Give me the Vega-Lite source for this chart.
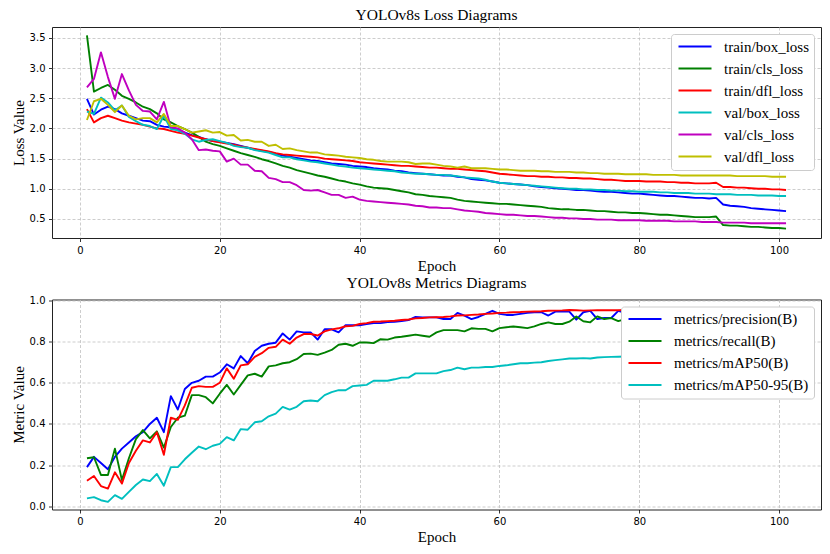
{
  "$schema": "https://vega.github.io/schema/vega-lite/v6.json",
  "background": "white",
  "padding": {"left": 10, "top": 7, "right": 5, "bottom": 5},
  "bounds": "flush",
  "spacing": 61.5,
  "config": {
    "font": "Liberation Serif",
    "view": {"stroke": "#222222", "strokeWidth": 1},
    "axis": {
      "domain": false,
      "labelFont": "DejaVu Sans", "labelFontSize": 10, "labelColor": "#000000", "labelPadding": 3.5, "labelFlush": false,
      "tickSize": 3.5, "tickColor": "#000000", "tickWidth": 0.8,
      "grid": true, "gridColor": "#c0c0c0", "gridDash": [3, 2], "gridWidth": 0.8,
      "titleFont": "Liberation Serif", "titleFontSize": 15, "titleFontWeight": "normal", "titleColor": "#000000", "titlePadding": 3
    },
    "title": {"font": "Liberation Serif", "fontSize": 15.5, "fontWeight": "normal", "color": "#000000", "offset": 4, "anchor": "middle"},
    "legend": {
      "orient": "top-right", "offset": 7, "title": null,
      "symbolType": "M-1,0H5.6", "symbolSize": 100, "symbolStrokeWidth": 2,
      "labelFont": "Liberation Serif", "labelFontSize": 15, "labelColor": "#000000", "labelOffset": 33, "labelLimit": 300,
      "rowPadding": 6, "padding": 5,
      "strokeColor": "#cccccc", "fillColor": "#ffffff", "cornerRadius": 3
    }
  },
  "resolve": {"scale": {"color": "independent"}, "legend": {"color": "independent"}},
  "datasets": {
    "loss": [
      {"epoch":1,"train/box_loss":2.49,"train/cls_loss":3.54,"train/dfl_loss":2.32,"val/box_loss":2.28,"val/cls_loss":2.68,"val/dfl_loss":2.14},
      {"epoch":2,"train/box_loss":2.23,"train/cls_loss":2.61,"train/dfl_loss":2.10,"val/box_loss":2.24,"val/cls_loss":2.82,"val/dfl_loss":2.45},
      {"epoch":3,"train/box_loss":2.31,"train/cls_loss":2.67,"train/dfl_loss":2.17,"val/box_loss":2.51,"val/cls_loss":3.26,"val/dfl_loss":2.49},
      {"epoch":4,"train/box_loss":2.36,"train/cls_loss":2.72,"train/dfl_loss":2.21,"val/box_loss":2.43,"val/cls_loss":2.85,"val/dfl_loss":2.39},
      {"epoch":5,"train/box_loss":2.32,"train/cls_loss":2.64,"train/dfl_loss":2.17,"val/box_loss":2.30,"val/cls_loss":2.49,"val/dfl_loss":2.27},
      {"epoch":6,"train/box_loss":2.25,"train/cls_loss":2.54,"train/dfl_loss":2.13,"val/box_loss":2.38,"val/cls_loss":2.90,"val/dfl_loss":2.38},
      {"epoch":7,"train/box_loss":2.21,"train/cls_loss":2.49,"train/dfl_loss":2.10,"val/box_loss":2.19,"val/cls_loss":2.63,"val/dfl_loss":2.21},
      {"epoch":8,"train/box_loss":2.17,"train/cls_loss":2.43,"train/dfl_loss":2.08,"val/box_loss":2.12,"val/cls_loss":2.39,"val/dfl_loss":2.15},
      {"epoch":9,"train/box_loss":2.13,"train/cls_loss":2.36,"train/dfl_loss":2.06,"val/box_loss":2.06,"val/cls_loss":2.29,"val/dfl_loss":2.17},
      {"epoch":10,"train/box_loss":2.12,"train/cls_loss":2.32,"train/dfl_loss":2.03,"val/box_loss":2.04,"val/cls_loss":2.28,"val/dfl_loss":2.17},
      {"epoch":11,"train/box_loss":2.06,"train/cls_loss":2.25,"train/dfl_loss":2.00,"val/box_loss":1.99,"val/cls_loss":2.15,"val/dfl_loss":2.10},
      {"epoch":12,"train/box_loss":2.03,"train/cls_loss":2.15,"train/dfl_loss":1.99,"val/box_loss":2.21,"val/cls_loss":2.44,"val/dfl_loss":2.24},
      {"epoch":13,"train/box_loss":2.02,"train/cls_loss":2.10,"train/dfl_loss":1.96,"val/box_loss":1.99,"val/cls_loss":2.02,"val/dfl_loss":2.04},
      {"epoch":14,"train/box_loss":1.97,"train/cls_loss":2.04,"train/dfl_loss":1.93,"val/box_loss":1.97,"val/cls_loss":2.00,"val/dfl_loss":2.04},
      {"epoch":15,"train/box_loss":1.93,"train/cls_loss":1.99,"train/dfl_loss":1.91,"val/box_loss":1.91,"val/cls_loss":1.93,"val/dfl_loss":1.99},
      {"epoch":16,"train/box_loss":1.89,"train/cls_loss":1.93,"train/dfl_loss":1.88,"val/box_loss":1.82,"val/cls_loss":1.82,"val/dfl_loss":1.93},
      {"epoch":17,"train/box_loss":1.86,"train/cls_loss":1.86,"train/dfl_loss":1.85,"val/box_loss":1.78,"val/cls_loss":1.64,"val/dfl_loss":1.95},
      {"epoch":18,"train/box_loss":1.82,"train/cls_loss":1.78,"train/dfl_loss":1.82,"val/box_loss":1.81,"val/cls_loss":1.65,"val/dfl_loss":1.97},
      {"epoch":19,"train/box_loss":1.79,"train/cls_loss":1.74,"train/dfl_loss":1.79,"val/box_loss":1.82,"val/cls_loss":1.63,"val/dfl_loss":1.93},
      {"epoch":20,"train/box_loss":1.78,"train/cls_loss":1.71,"train/dfl_loss":1.77,"val/box_loss":1.79,"val/cls_loss":1.62,"val/dfl_loss":1.94},
      {"epoch":21,"train/box_loss":1.76,"train/cls_loss":1.67,"train/dfl_loss":1.75,"val/box_loss":1.76,"val/cls_loss":1.45,"val/dfl_loss":1.88},
      {"epoch":22,"train/box_loss":1.74,"train/cls_loss":1.63,"train/dfl_loss":1.73,"val/box_loss":1.71,"val/cls_loss":1.50,"val/dfl_loss":1.89},
      {"epoch":23,"train/box_loss":1.71,"train/cls_loss":1.59,"train/dfl_loss":1.70,"val/box_loss":1.69,"val/cls_loss":1.40,"val/dfl_loss":1.80},
      {"epoch":24,"train/box_loss":1.68,"train/cls_loss":1.56,"train/dfl_loss":1.68,"val/box_loss":1.68,"val/cls_loss":1.40,"val/dfl_loss":1.81},
      {"epoch":25,"train/box_loss":1.65,"train/cls_loss":1.53,"train/dfl_loss":1.66,"val/box_loss":1.64,"val/cls_loss":1.30,"val/dfl_loss":1.78},
      {"epoch":26,"train/box_loss":1.63,"train/cls_loss":1.49,"train/dfl_loss":1.64,"val/box_loss":1.62,"val/cls_loss":1.29,"val/dfl_loss":1.78},
      {"epoch":27,"train/box_loss":1.61,"train/cls_loss":1.46,"train/dfl_loss":1.62,"val/box_loss":1.60,"val/cls_loss":1.18,"val/dfl_loss":1.71},
      {"epoch":28,"train/box_loss":1.58,"train/cls_loss":1.42,"train/dfl_loss":1.59,"val/box_loss":1.56,"val/cls_loss":1.16,"val/dfl_loss":1.73},
      {"epoch":29,"train/box_loss":1.55,"train/cls_loss":1.38,"train/dfl_loss":1.57,"val/box_loss":1.52,"val/cls_loss":1.11,"val/dfl_loss":1.66},
      {"epoch":30,"train/box_loss":1.53,"train/cls_loss":1.35,"train/dfl_loss":1.56,"val/box_loss":1.52,"val/cls_loss":1.11,"val/dfl_loss":1.67},
      {"epoch":31,"train/box_loss":1.51,"train/cls_loss":1.31,"train/dfl_loss":1.55,"val/box_loss":1.49,"val/cls_loss":1.06,"val/dfl_loss":1.64},
      {"epoch":32,"train/box_loss":1.49,"train/cls_loss":1.28,"train/dfl_loss":1.54,"val/box_loss":1.47,"val/cls_loss":0.98,"val/dfl_loss":1.62},
      {"epoch":33,"train/box_loss":1.47,"train/cls_loss":1.25,"train/dfl_loss":1.53,"val/box_loss":1.45,"val/cls_loss":0.97,"val/dfl_loss":1.60},
      {"epoch":34,"train/box_loss":1.46,"train/cls_loss":1.22,"train/dfl_loss":1.52,"val/box_loss":1.44,"val/cls_loss":0.98,"val/dfl_loss":1.60},
      {"epoch":35,"train/box_loss":1.44,"train/cls_loss":1.20,"train/dfl_loss":1.50,"val/box_loss":1.42,"val/cls_loss":0.94,"val/dfl_loss":1.57},
      {"epoch":36,"train/box_loss":1.42,"train/cls_loss":1.17,"train/dfl_loss":1.49,"val/box_loss":1.40,"val/cls_loss":0.90,"val/dfl_loss":1.56},
      {"epoch":37,"train/box_loss":1.41,"train/cls_loss":1.14,"train/dfl_loss":1.48,"val/box_loss":1.38,"val/cls_loss":0.90,"val/dfl_loss":1.55},
      {"epoch":38,"train/box_loss":1.40,"train/cls_loss":1.12,"train/dfl_loss":1.47,"val/box_loss":1.37,"val/cls_loss":0.85,"val/dfl_loss":1.53},
      {"epoch":39,"train/box_loss":1.38,"train/cls_loss":1.09,"train/dfl_loss":1.46,"val/box_loss":1.35,"val/cls_loss":0.87,"val/dfl_loss":1.52},
      {"epoch":40,"train/box_loss":1.37,"train/cls_loss":1.07,"train/dfl_loss":1.44,"val/box_loss":1.34,"val/cls_loss":0.82,"val/dfl_loss":1.51},
      {"epoch":41,"train/box_loss":1.36,"train/cls_loss":1.04,"train/dfl_loss":1.43,"val/box_loss":1.33,"val/cls_loss":0.80,"val/dfl_loss":1.49},
      {"epoch":42,"train/box_loss":1.34,"train/cls_loss":1.02,"train/dfl_loss":1.42,"val/box_loss":1.32,"val/cls_loss":0.79,"val/dfl_loss":1.48},
      {"epoch":43,"train/box_loss":1.33,"train/cls_loss":1.01,"train/dfl_loss":1.41,"val/box_loss":1.31,"val/cls_loss":0.78,"val/dfl_loss":1.46},
      {"epoch":44,"train/box_loss":1.32,"train/cls_loss":1.00,"train/dfl_loss":1.40,"val/box_loss":1.30,"val/cls_loss":0.77,"val/dfl_loss":1.45},
      {"epoch":45,"train/box_loss":1.30,"train/cls_loss":0.98,"train/dfl_loss":1.39,"val/box_loss":1.29,"val/cls_loss":0.76,"val/dfl_loss":1.45},
      {"epoch":46,"train/box_loss":1.29,"train/cls_loss":0.96,"train/dfl_loss":1.38,"val/box_loss":1.27,"val/cls_loss":0.75,"val/dfl_loss":1.45},
      {"epoch":47,"train/box_loss":1.27,"train/cls_loss":0.94,"train/dfl_loss":1.38,"val/box_loss":1.26,"val/cls_loss":0.74,"val/dfl_loss":1.44},
      {"epoch":48,"train/box_loss":1.26,"train/cls_loss":0.91,"train/dfl_loss":1.37,"val/box_loss":1.25,"val/cls_loss":0.72,"val/dfl_loss":1.41},
      {"epoch":49,"train/box_loss":1.25,"train/cls_loss":0.90,"train/dfl_loss":1.36,"val/box_loss":1.25,"val/cls_loss":0.71,"val/dfl_loss":1.42},
      {"epoch":50,"train/box_loss":1.24,"train/cls_loss":0.88,"train/dfl_loss":1.35,"val/box_loss":1.24,"val/cls_loss":0.69,"val/dfl_loss":1.42},
      {"epoch":51,"train/box_loss":1.23,"train/cls_loss":0.87,"train/dfl_loss":1.35,"val/box_loss":1.23,"val/cls_loss":0.69,"val/dfl_loss":1.40},
      {"epoch":52,"train/box_loss":1.22,"train/cls_loss":0.86,"train/dfl_loss":1.34,"val/box_loss":1.23,"val/cls_loss":0.68,"val/dfl_loss":1.38},
      {"epoch":53,"train/box_loss":1.22,"train/cls_loss":0.85,"train/dfl_loss":1.33,"val/box_loss":1.22,"val/cls_loss":0.68,"val/dfl_loss":1.37},
      {"epoch":54,"train/box_loss":1.20,"train/cls_loss":0.82,"train/dfl_loss":1.33,"val/box_loss":1.21,"val/cls_loss":0.66,"val/dfl_loss":1.35},
      {"epoch":55,"train/box_loss":1.19,"train/cls_loss":0.80,"train/dfl_loss":1.32,"val/box_loss":1.19,"val/cls_loss":0.64,"val/dfl_loss":1.37},
      {"epoch":56,"train/box_loss":1.16,"train/cls_loss":0.79,"train/dfl_loss":1.31,"val/box_loss":1.18,"val/cls_loss":0.63,"val/dfl_loss":1.34},
      {"epoch":57,"train/box_loss":1.15,"train/cls_loss":0.78,"train/dfl_loss":1.30,"val/box_loss":1.17,"val/cls_loss":0.62,"val/dfl_loss":1.34},
      {"epoch":58,"train/box_loss":1.14,"train/cls_loss":0.77,"train/dfl_loss":1.29,"val/box_loss":1.15,"val/cls_loss":0.60,"val/dfl_loss":1.34},
      {"epoch":59,"train/box_loss":1.12,"train/cls_loss":0.76,"train/dfl_loss":1.27,"val/box_loss":1.12,"val/cls_loss":0.59,"val/dfl_loss":1.33},
      {"epoch":60,"train/box_loss":1.10,"train/cls_loss":0.75,"train/dfl_loss":1.25,"val/box_loss":1.10,"val/cls_loss":0.58,"val/dfl_loss":1.32},
      {"epoch":61,"train/box_loss":1.09,"train/cls_loss":0.75,"train/dfl_loss":1.24,"val/box_loss":1.09,"val/cls_loss":0.57,"val/dfl_loss":1.32},
      {"epoch":62,"train/box_loss":1.08,"train/cls_loss":0.74,"train/dfl_loss":1.23,"val/box_loss":1.08,"val/cls_loss":0.57,"val/dfl_loss":1.31},
      {"epoch":63,"train/box_loss":1.07,"train/cls_loss":0.73,"train/dfl_loss":1.22,"val/box_loss":1.07,"val/cls_loss":0.56,"val/dfl_loss":1.30},
      {"epoch":64,"train/box_loss":1.06,"train/cls_loss":0.72,"train/dfl_loss":1.21,"val/box_loss":1.06,"val/cls_loss":0.55,"val/dfl_loss":1.30},
      {"epoch":65,"train/box_loss":1.04,"train/cls_loss":0.71,"train/dfl_loss":1.21,"val/box_loss":1.05,"val/cls_loss":0.55,"val/dfl_loss":1.30},
      {"epoch":66,"train/box_loss":1.03,"train/cls_loss":0.70,"train/dfl_loss":1.20,"val/box_loss":1.04,"val/cls_loss":0.54,"val/dfl_loss":1.29},
      {"epoch":67,"train/box_loss":1.02,"train/cls_loss":0.68,"train/dfl_loss":1.20,"val/box_loss":1.03,"val/cls_loss":0.53,"val/dfl_loss":1.29},
      {"epoch":68,"train/box_loss":1.01,"train/cls_loss":0.67,"train/dfl_loss":1.19,"val/box_loss":1.02,"val/cls_loss":0.52,"val/dfl_loss":1.28},
      {"epoch":69,"train/box_loss":1.00,"train/cls_loss":0.66,"train/dfl_loss":1.19,"val/box_loss":1.01,"val/cls_loss":0.52,"val/dfl_loss":1.28},
      {"epoch":70,"train/box_loss":0.99,"train/cls_loss":0.66,"train/dfl_loss":1.18,"val/box_loss":1.00,"val/cls_loss":0.51,"val/dfl_loss":1.28},
      {"epoch":71,"train/box_loss":0.98,"train/cls_loss":0.65,"train/dfl_loss":1.18,"val/box_loss":1.00,"val/cls_loss":0.51,"val/dfl_loss":1.27},
      {"epoch":72,"train/box_loss":0.98,"train/cls_loss":0.65,"train/dfl_loss":1.17,"val/box_loss":0.99,"val/cls_loss":0.50,"val/dfl_loss":1.27},
      {"epoch":73,"train/box_loss":0.97,"train/cls_loss":0.64,"train/dfl_loss":1.17,"val/box_loss":0.99,"val/cls_loss":0.50,"val/dfl_loss":1.26},
      {"epoch":74,"train/box_loss":0.96,"train/cls_loss":0.63,"train/dfl_loss":1.16,"val/box_loss":0.98,"val/cls_loss":0.49,"val/dfl_loss":1.26},
      {"epoch":75,"train/box_loss":0.95,"train/cls_loss":0.63,"train/dfl_loss":1.15,"val/box_loss":0.98,"val/cls_loss":0.49,"val/dfl_loss":1.25},
      {"epoch":76,"train/box_loss":0.95,"train/cls_loss":0.62,"train/dfl_loss":1.15,"val/box_loss":0.97,"val/cls_loss":0.49,"val/dfl_loss":1.25},
      {"epoch":77,"train/box_loss":0.94,"train/cls_loss":0.61,"train/dfl_loss":1.14,"val/box_loss":0.97,"val/cls_loss":0.48,"val/dfl_loss":1.25},
      {"epoch":78,"train/box_loss":0.93,"train/cls_loss":0.61,"train/dfl_loss":1.13,"val/box_loss":0.96,"val/cls_loss":0.48,"val/dfl_loss":1.24},
      {"epoch":79,"train/box_loss":0.92,"train/cls_loss":0.60,"train/dfl_loss":1.13,"val/box_loss":0.96,"val/cls_loss":0.48,"val/dfl_loss":1.24},
      {"epoch":80,"train/box_loss":0.92,"train/cls_loss":0.60,"train/dfl_loss":1.13,"val/box_loss":0.95,"val/cls_loss":0.48,"val/dfl_loss":1.24},
      {"epoch":81,"train/box_loss":0.91,"train/cls_loss":0.59,"train/dfl_loss":1.12,"val/box_loss":0.95,"val/cls_loss":0.47,"val/dfl_loss":1.24},
      {"epoch":82,"train/box_loss":0.90,"train/cls_loss":0.58,"train/dfl_loss":1.12,"val/box_loss":0.95,"val/cls_loss":0.47,"val/dfl_loss":1.23},
      {"epoch":83,"train/box_loss":0.89,"train/cls_loss":0.57,"train/dfl_loss":1.12,"val/box_loss":0.94,"val/cls_loss":0.47,"val/dfl_loss":1.23},
      {"epoch":84,"train/box_loss":0.88,"train/cls_loss":0.57,"train/dfl_loss":1.11,"val/box_loss":0.94,"val/cls_loss":0.47,"val/dfl_loss":1.23},
      {"epoch":85,"train/box_loss":0.88,"train/cls_loss":0.56,"train/dfl_loss":1.11,"val/box_loss":0.93,"val/cls_loss":0.46,"val/dfl_loss":1.23},
      {"epoch":86,"train/box_loss":0.87,"train/cls_loss":0.55,"train/dfl_loss":1.10,"val/box_loss":0.93,"val/cls_loss":0.46,"val/dfl_loss":1.22},
      {"epoch":87,"train/box_loss":0.86,"train/cls_loss":0.54,"train/dfl_loss":1.10,"val/box_loss":0.93,"val/cls_loss":0.46,"val/dfl_loss":1.22},
      {"epoch":88,"train/box_loss":0.85,"train/cls_loss":0.53,"train/dfl_loss":1.09,"val/box_loss":0.92,"val/cls_loss":0.46,"val/dfl_loss":1.22},
      {"epoch":89,"train/box_loss":0.85,"train/cls_loss":0.53,"train/dfl_loss":1.09,"val/box_loss":0.92,"val/cls_loss":0.45,"val/dfl_loss":1.22},
      {"epoch":90,"train/box_loss":0.84,"train/cls_loss":0.53,"train/dfl_loss":1.09,"val/box_loss":0.92,"val/cls_loss":0.45,"val/dfl_loss":1.22},
      {"epoch":91,"train/box_loss":0.85,"train/cls_loss":0.54,"train/dfl_loss":1.10,"val/box_loss":0.91,"val/cls_loss":0.45,"val/dfl_loss":1.22},
      {"epoch":92,"train/box_loss":0.74,"train/cls_loss":0.40,"train/dfl_loss":1.03,"val/box_loss":0.91,"val/cls_loss":0.44,"val/dfl_loss":1.22},
      {"epoch":93,"train/box_loss":0.72,"train/cls_loss":0.39,"train/dfl_loss":1.03,"val/box_loss":0.91,"val/cls_loss":0.44,"val/dfl_loss":1.22},
      {"epoch":94,"train/box_loss":0.71,"train/cls_loss":0.39,"train/dfl_loss":1.02,"val/box_loss":0.90,"val/cls_loss":0.44,"val/dfl_loss":1.21},
      {"epoch":95,"train/box_loss":0.70,"train/cls_loss":0.38,"train/dfl_loss":1.02,"val/box_loss":0.90,"val/cls_loss":0.44,"val/dfl_loss":1.21},
      {"epoch":96,"train/box_loss":0.68,"train/cls_loss":0.37,"train/dfl_loss":1.01,"val/box_loss":0.90,"val/cls_loss":0.43,"val/dfl_loss":1.21},
      {"epoch":97,"train/box_loss":0.67,"train/cls_loss":0.37,"train/dfl_loss":1.00,"val/box_loss":0.89,"val/cls_loss":0.43,"val/dfl_loss":1.21},
      {"epoch":98,"train/box_loss":0.66,"train/cls_loss":0.36,"train/dfl_loss":1.00,"val/box_loss":0.89,"val/cls_loss":0.43,"val/dfl_loss":1.21},
      {"epoch":99,"train/box_loss":0.65,"train/cls_loss":0.35,"train/dfl_loss":0.99,"val/box_loss":0.89,"val/cls_loss":0.43,"val/dfl_loss":1.20},
      {"epoch":100,"train/box_loss":0.64,"train/cls_loss":0.35,"train/dfl_loss":0.99,"val/box_loss":0.88,"val/cls_loss":0.43,"val/dfl_loss":1.20},
      {"epoch":101,"train/box_loss":0.63,"train/cls_loss":0.34,"train/dfl_loss":0.98,"val/box_loss":0.88,"val/cls_loss":0.43,"val/dfl_loss":1.20}
    ],
    "metrics": [
      {"epoch":1,"metrics/precision(B)":0.19,"metrics/recall(B)":0.233,"metrics/mAP50(B)":0.124,"metrics/mAP50-95(B)":0.038},
      {"epoch":2,"metrics/precision(B)":0.24,"metrics/recall(B)":0.238,"metrics/mAP50(B)":0.147,"metrics/mAP50-95(B)":0.044},
      {"epoch":3,"metrics/precision(B)":0.21,"metrics/recall(B)":0.152,"metrics/mAP50(B)":0.098,"metrics/mAP50-95(B)":0.029},
      {"epoch":4,"metrics/precision(B)":0.18,"metrics/recall(B)":0.152,"metrics/mAP50(B)":0.086,"metrics/mAP50-95(B)":0.021},
      {"epoch":5,"metrics/precision(B)":0.24,"metrics/recall(B)":0.28,"metrics/mAP50(B)":0.165,"metrics/mAP50-95(B)":0.054},
      {"epoch":6,"metrics/precision(B)":0.28,"metrics/recall(B)":0.127,"metrics/mAP50(B)":0.11,"metrics/mAP50-95(B)":0.036},
      {"epoch":7,"metrics/precision(B)":0.31,"metrics/recall(B)":0.233,"metrics/mAP50(B)":0.21,"metrics/mAP50-95(B)":0.07},
      {"epoch":8,"metrics/precision(B)":0.34,"metrics/recall(B)":0.326,"metrics/mAP50(B)":0.27,"metrics/mAP50-95(B)":0.103},
      {"epoch":9,"metrics/precision(B)":0.36,"metrics/recall(B)":0.37,"metrics/mAP50(B)":0.32,"metrics/mAP50-95(B)":0.13},
      {"epoch":10,"metrics/precision(B)":0.40,"metrics/recall(B)":0.33,"metrics/mAP50(B)":0.31,"metrics/mAP50-95(B)":0.122},
      {"epoch":11,"metrics/precision(B)":0.43,"metrics/recall(B)":0.364,"metrics/mAP50(B)":0.36,"metrics/mAP50-95(B)":0.157},
      {"epoch":12,"metrics/precision(B)":0.36,"metrics/recall(B)":0.285,"metrics/mAP50(B)":0.25,"metrics/mAP50-95(B)":0.10},
      {"epoch":13,"metrics/precision(B)":0.535,"metrics/recall(B)":0.385,"metrics/mAP50(B)":0.43,"metrics/mAP50-95(B)":0.19},
      {"epoch":14,"metrics/precision(B)":0.47,"metrics/recall(B)":0.43,"metrics/mAP50(B)":0.42,"metrics/mAP50-95(B)":0.19},
      {"epoch":15,"metrics/precision(B)":0.57,"metrics/recall(B)":0.44,"metrics/mAP50(B)":0.49,"metrics/mAP50-95(B)":0.228},
      {"epoch":16,"metrics/precision(B)":0.60,"metrics/recall(B)":0.54,"metrics/mAP50(B)":0.576,"metrics/mAP50-95(B)":0.26},
      {"epoch":17,"metrics/precision(B)":0.61,"metrics/recall(B)":0.54,"metrics/mAP50(B)":0.584,"metrics/mAP50-95(B)":0.29},
      {"epoch":18,"metrics/precision(B)":0.63,"metrics/recall(B)":0.53,"metrics/mAP50(B)":0.58,"metrics/mAP50-95(B)":0.277},
      {"epoch":19,"metrics/precision(B)":0.63,"metrics/recall(B)":0.50,"metrics/mAP50(B)":0.58,"metrics/mAP50-95(B)":0.294},
      {"epoch":20,"metrics/precision(B)":0.65,"metrics/recall(B)":0.547,"metrics/mAP50(B)":0.60,"metrics/mAP50-95(B)":0.303},
      {"epoch":21,"metrics/precision(B)":0.69,"metrics/recall(B)":0.59,"metrics/mAP50(B)":0.67,"metrics/mAP50-95(B)":0.336},
      {"epoch":22,"metrics/precision(B)":0.67,"metrics/recall(B)":0.543,"metrics/mAP50(B)":0.62,"metrics/mAP50-95(B)":0.32},
      {"epoch":23,"metrics/precision(B)":0.73,"metrics/recall(B)":0.59,"metrics/mAP50(B)":0.685,"metrics/mAP50-95(B)":0.375},
      {"epoch":24,"metrics/precision(B)":0.695,"metrics/recall(B)":0.636,"metrics/mAP50(B)":0.69,"metrics/mAP50-95(B)":0.372},
      {"epoch":25,"metrics/precision(B)":0.755,"metrics/recall(B)":0.644,"metrics/mAP50(B)":0.726,"metrics/mAP50-95(B)":0.408},
      {"epoch":26,"metrics/precision(B)":0.78,"metrics/recall(B)":0.63,"metrics/mAP50(B)":0.744,"metrics/mAP50-95(B)":0.413},
      {"epoch":27,"metrics/precision(B)":0.79,"metrics/recall(B)":0.68,"metrics/mAP50(B)":0.77,"metrics/mAP50-95(B)":0.437},
      {"epoch":28,"metrics/precision(B)":0.795,"metrics/recall(B)":0.685,"metrics/mAP50(B)":0.775,"metrics/mAP50-95(B)":0.45},
      {"epoch":29,"metrics/precision(B)":0.84,"metrics/recall(B)":0.695,"metrics/mAP50(B)":0.81,"metrics/mAP50-95(B)":0.483},
      {"epoch":30,"metrics/precision(B)":0.81,"metrics/recall(B)":0.70,"metrics/mAP50(B)":0.79,"metrics/mAP50-95(B)":0.47},
      {"epoch":31,"metrics/precision(B)":0.85,"metrics/recall(B)":0.715,"metrics/mAP50(B)":0.82,"metrics/mAP50-95(B)":0.483},
      {"epoch":32,"metrics/precision(B)":0.845,"metrics/recall(B)":0.74,"metrics/mAP50(B)":0.837,"metrics/mAP50-95(B)":0.51},
      {"epoch":33,"metrics/precision(B)":0.845,"metrics/recall(B)":0.742,"metrics/mAP50(B)":0.837,"metrics/mAP50-95(B)":0.514},
      {"epoch":34,"metrics/precision(B)":0.81,"metrics/recall(B)":0.736,"metrics/mAP50(B)":0.83,"metrics/mAP50-95(B)":0.51},
      {"epoch":35,"metrics/precision(B)":0.86,"metrics/recall(B)":0.747,"metrics/mAP50(B)":0.85,"metrics/mAP50-95(B)":0.54},
      {"epoch":36,"metrics/precision(B)":0.86,"metrics/recall(B)":0.76,"metrics/mAP50(B)":0.86,"metrics/mAP50-95(B)":0.555},
      {"epoch":37,"metrics/precision(B)":0.845,"metrics/recall(B)":0.785,"metrics/mAP50(B)":0.865,"metrics/mAP50-95(B)":0.564},
      {"epoch":38,"metrics/precision(B)":0.88,"metrics/recall(B)":0.79,"metrics/mAP50(B)":0.875,"metrics/mAP50-95(B)":0.564},
      {"epoch":39,"metrics/precision(B)":0.88,"metrics/recall(B)":0.78,"metrics/mAP50(B)":0.877,"metrics/mAP50-95(B)":0.584},
      {"epoch":40,"metrics/precision(B)":0.88,"metrics/recall(B)":0.796,"metrics/mAP50(B)":0.886,"metrics/mAP50-95(B)":0.587},
      {"epoch":41,"metrics/precision(B)":0.885,"metrics/recall(B)":0.796,"metrics/mAP50(B)":0.89,"metrics/mAP50-95(B)":0.59},
      {"epoch":42,"metrics/precision(B)":0.89,"metrics/recall(B)":0.793,"metrics/mAP50(B)":0.897,"metrics/mAP50-95(B)":0.61},
      {"epoch":43,"metrics/precision(B)":0.89,"metrics/recall(B)":0.812,"metrics/mAP50(B)":0.898,"metrics/mAP50-95(B)":0.61},
      {"epoch":44,"metrics/precision(B)":0.895,"metrics/recall(B)":0.81,"metrics/mAP50(B)":0.90,"metrics/mAP50-95(B)":0.61},
      {"epoch":45,"metrics/precision(B)":0.897,"metrics/recall(B)":0.82,"metrics/mAP50(B)":0.902,"metrics/mAP50-95(B)":0.617},
      {"epoch":46,"metrics/precision(B)":0.90,"metrics/recall(B)":0.824,"metrics/mAP50(B)":0.905,"metrics/mAP50-95(B)":0.625},
      {"epoch":47,"metrics/precision(B)":0.905,"metrics/recall(B)":0.829,"metrics/mAP50(B)":0.908,"metrics/mAP50-95(B)":0.625},
      {"epoch":48,"metrics/precision(B)":0.92,"metrics/recall(B)":0.834,"metrics/mAP50(B)":0.913,"metrics/mAP50-95(B)":0.646},
      {"epoch":49,"metrics/precision(B)":0.918,"metrics/recall(B)":0.829,"metrics/mAP50(B)":0.915,"metrics/mAP50-95(B)":0.646},
      {"epoch":50,"metrics/precision(B)":0.918,"metrics/recall(B)":0.824,"metrics/mAP50(B)":0.918,"metrics/mAP50-95(B)":0.646},
      {"epoch":51,"metrics/precision(B)":0.918,"metrics/recall(B)":0.845,"metrics/mAP50(B)":0.919,"metrics/mAP50-95(B)":0.646},
      {"epoch":52,"metrics/precision(B)":0.91,"metrics/recall(B)":0.856,"metrics/mAP50(B)":0.92,"metrics/mAP50-95(B)":0.657},
      {"epoch":53,"metrics/precision(B)":0.91,"metrics/recall(B)":0.856,"metrics/mAP50(B)":0.923,"metrics/mAP50-95(B)":0.662},
      {"epoch":54,"metrics/precision(B)":0.94,"metrics/recall(B)":0.856,"metrics/mAP50(B)":0.927,"metrics/mAP50-95(B)":0.674},
      {"epoch":55,"metrics/precision(B)":0.927,"metrics/recall(B)":0.85,"metrics/mAP50(B)":0.928,"metrics/mAP50-95(B)":0.666},
      {"epoch":56,"metrics/precision(B)":0.91,"metrics/recall(B)":0.865,"metrics/mAP50(B)":0.93,"metrics/mAP50-95(B)":0.674},
      {"epoch":57,"metrics/precision(B)":0.92,"metrics/recall(B)":0.862,"metrics/mAP50(B)":0.932,"metrics/mAP50-95(B)":0.674},
      {"epoch":58,"metrics/precision(B)":0.935,"metrics/recall(B)":0.862,"metrics/mAP50(B)":0.935,"metrics/mAP50-95(B)":0.677},
      {"epoch":59,"metrics/precision(B)":0.95,"metrics/recall(B)":0.85,"metrics/mAP50(B)":0.937,"metrics/mAP50-95(B)":0.677},
      {"epoch":60,"metrics/precision(B)":0.935,"metrics/recall(B)":0.866,"metrics/mAP50(B)":0.94,"metrics/mAP50-95(B)":0.682},
      {"epoch":61,"metrics/precision(B)":0.93,"metrics/recall(B)":0.87,"metrics/mAP50(B)":0.941,"metrics/mAP50-95(B)":0.685},
      {"epoch":62,"metrics/precision(B)":0.93,"metrics/recall(B)":0.874,"metrics/mAP50(B)":0.943,"metrics/mAP50-95(B)":0.69},
      {"epoch":63,"metrics/precision(B)":0.935,"metrics/recall(B)":0.87,"metrics/mAP50(B)":0.944,"metrics/mAP50-95(B)":0.695},
      {"epoch":64,"metrics/precision(B)":0.94,"metrics/recall(B)":0.866,"metrics/mAP50(B)":0.946,"metrics/mAP50-95(B)":0.695},
      {"epoch":65,"metrics/precision(B)":0.943,"metrics/recall(B)":0.874,"metrics/mAP50(B)":0.947,"metrics/mAP50-95(B)":0.698},
      {"epoch":66,"metrics/precision(B)":0.943,"metrics/recall(B)":0.886,"metrics/mAP50(B)":0.948,"metrics/mAP50-95(B)":0.70},
      {"epoch":67,"metrics/precision(B)":0.927,"metrics/recall(B)":0.894,"metrics/mAP50(B)":0.95,"metrics/mAP50-95(B)":0.706},
      {"epoch":68,"metrics/precision(B)":0.946,"metrics/recall(B)":0.886,"metrics/mAP50(B)":0.951,"metrics/mAP50-95(B)":0.71},
      {"epoch":69,"metrics/precision(B)":0.946,"metrics/recall(B)":0.886,"metrics/mAP50(B)":0.952,"metrics/mAP50-95(B)":0.714},
      {"epoch":70,"metrics/precision(B)":0.946,"metrics/recall(B)":0.897,"metrics/mAP50(B)":0.954,"metrics/mAP50-95(B)":0.718},
      {"epoch":71,"metrics/precision(B)":0.907,"metrics/recall(B)":0.922,"metrics/mAP50(B)":0.953,"metrics/mAP50-95(B)":0.718},
      {"epoch":72,"metrics/precision(B)":0.943,"metrics/recall(B)":0.899,"metrics/mAP50(B)":0.951,"metrics/mAP50-95(B)":0.72},
      {"epoch":73,"metrics/precision(B)":0.95,"metrics/recall(B)":0.894,"metrics/mAP50(B)":0.952,"metrics/mAP50-95(B)":0.718},
      {"epoch":74,"metrics/precision(B)":0.91,"metrics/recall(B)":0.923,"metrics/mAP50(B)":0.953,"metrics/mAP50-95(B)":0.723},
      {"epoch":75,"metrics/precision(B)":0.915,"metrics/recall(B)":0.91,"metrics/mAP50(B)":0.953,"metrics/mAP50-95(B)":0.725},
      {"epoch":76,"metrics/precision(B)":0.915,"metrics/recall(B)":0.915,"metrics/mAP50(B)":0.953,"metrics/mAP50-95(B)":0.726},
      {"epoch":77,"metrics/precision(B)":0.95,"metrics/recall(B)":0.90,"metrics/mAP50(B)":0.953,"metrics/mAP50-95(B)":0.727},
      {"epoch":78,"metrics/precision(B)":0.94,"metrics/recall(B)":0.91,"metrics/mAP50(B)":0.954,"metrics/mAP50-95(B)":0.728},
      {"epoch":79,"metrics/precision(B)":0.95,"metrics/recall(B)":0.91,"metrics/mAP50(B)":0.954,"metrics/mAP50-95(B)":0.729},
      {"epoch":80,"metrics/precision(B)":0.94,"metrics/recall(B)":0.90,"metrics/mAP50(B)":0.954,"metrics/mAP50-95(B)":0.73},
      {"epoch":81,"metrics/precision(B)":0.95,"metrics/recall(B)":0.91,"metrics/mAP50(B)":0.955,"metrics/mAP50-95(B)":0.731},
      {"epoch":82,"metrics/precision(B)":0.94,"metrics/recall(B)":0.91,"metrics/mAP50(B)":0.955,"metrics/mAP50-95(B)":0.732},
      {"epoch":83,"metrics/precision(B)":0.95,"metrics/recall(B)":0.92,"metrics/mAP50(B)":0.955,"metrics/mAP50-95(B)":0.733},
      {"epoch":84,"metrics/precision(B)":0.95,"metrics/recall(B)":0.91,"metrics/mAP50(B)":0.956,"metrics/mAP50-95(B)":0.734},
      {"epoch":85,"metrics/precision(B)":0.94,"metrics/recall(B)":0.92,"metrics/mAP50(B)":0.956,"metrics/mAP50-95(B)":0.735},
      {"epoch":86,"metrics/precision(B)":0.95,"metrics/recall(B)":0.92,"metrics/mAP50(B)":0.956,"metrics/mAP50-95(B)":0.736},
      {"epoch":87,"metrics/precision(B)":0.95,"metrics/recall(B)":0.91,"metrics/mAP50(B)":0.957,"metrics/mAP50-95(B)":0.737},
      {"epoch":88,"metrics/precision(B)":0.95,"metrics/recall(B)":0.92,"metrics/mAP50(B)":0.957,"metrics/mAP50-95(B)":0.738},
      {"epoch":89,"metrics/precision(B)":0.94,"metrics/recall(B)":0.92,"metrics/mAP50(B)":0.957,"metrics/mAP50-95(B)":0.739},
      {"epoch":90,"metrics/precision(B)":0.95,"metrics/recall(B)":0.92,"metrics/mAP50(B)":0.957,"metrics/mAP50-95(B)":0.74},
      {"epoch":91,"metrics/precision(B)":0.95,"metrics/recall(B)":0.92,"metrics/mAP50(B)":0.958,"metrics/mAP50-95(B)":0.741},
      {"epoch":92,"metrics/precision(B)":0.96,"metrics/recall(B)":0.93,"metrics/mAP50(B)":0.958,"metrics/mAP50-95(B)":0.742},
      {"epoch":93,"metrics/precision(B)":0.95,"metrics/recall(B)":0.92,"metrics/mAP50(B)":0.958,"metrics/mAP50-95(B)":0.743},
      {"epoch":94,"metrics/precision(B)":0.96,"metrics/recall(B)":0.93,"metrics/mAP50(B)":0.958,"metrics/mAP50-95(B)":0.744},
      {"epoch":95,"metrics/precision(B)":0.96,"metrics/recall(B)":0.93,"metrics/mAP50(B)":0.959,"metrics/mAP50-95(B)":0.744},
      {"epoch":96,"metrics/precision(B)":0.95,"metrics/recall(B)":0.93,"metrics/mAP50(B)":0.959,"metrics/mAP50-95(B)":0.745},
      {"epoch":97,"metrics/precision(B)":0.96,"metrics/recall(B)":0.93,"metrics/mAP50(B)":0.959,"metrics/mAP50-95(B)":0.745},
      {"epoch":98,"metrics/precision(B)":0.96,"metrics/recall(B)":0.93,"metrics/mAP50(B)":0.959,"metrics/mAP50-95(B)":0.746},
      {"epoch":99,"metrics/precision(B)":0.96,"metrics/recall(B)":0.93,"metrics/mAP50(B)":0.96,"metrics/mAP50-95(B)":0.746},
      {"epoch":100,"metrics/precision(B)":0.96,"metrics/recall(B)":0.93,"metrics/mAP50(B)":0.96,"metrics/mAP50-95(B)":0.747},
      {"epoch":101,"metrics/precision(B)":0.96,"metrics/recall(B)":0.93,"metrics/mAP50(B)":0.96,"metrics/mAP50-95(B)":0.747}
    ]
  },
  "vconcat": [
    {
      "title": "YOLOv8s Loss Diagrams",
      "width": 769,
      "height": 211,
      "data": {"name": "loss"},
      "transform": [
        {"fold": ["train/box_loss", "train/cls_loss", "train/dfl_loss", "val/box_loss", "val/cls_loss", "val/dfl_loss"], "as": ["series", "value"]}
      ],
      "mark": {"type": "line", "strokeWidth": 1.9, "strokeJoin": "round"},
      "encoding": {
        "x": {
          "field": "epoch", "type": "quantitative",
          "scale": {"domain": [-4, 106], "nice": false, "zero": false},
          "axis": {"values": [0, 20, 40, 60, 80, 100], "title": "Epoch"}
        },
        "y": {
          "field": "value", "type": "quantitative",
          "scale": {"domain": [0.185, 3.68], "nice": false, "zero": false},
          "axis": {"values": [0.5, 1.0, 1.5, 2.0, 2.5, 3.0, 3.5], "format": ".1f", "title": "Loss Value"}
        },
        "color": {
          "field": "series", "type": "nominal",
          "scale": {
            "domain": ["train/box_loss", "train/cls_loss", "train/dfl_loss", "val/box_loss", "val/cls_loss", "val/dfl_loss"],
            "range": ["#0000ff", "#008000", "#ff0000", "#00bfbf", "#bf00bf", "#bfbf00"]
          },
          "legend": {"orient": "top-right"}
        }
      }
    },
    {
      "title": "YOLOv8s Metrics Diagrams",
      "width": 769,
      "height": 210,
      "data": {"name": "metrics"},
      "transform": [
        {"fold": ["metrics/precision(B)", "metrics/recall(B)", "metrics/mAP50(B)", "metrics/mAP50-95(B)"], "as": ["series", "value"]}
      ],
      "mark": {"type": "line", "strokeWidth": 1.9, "strokeJoin": "round"},
      "encoding": {
        "x": {
          "field": "epoch", "type": "quantitative",
          "scale": {"domain": [-4, 106], "nice": false, "zero": false},
          "axis": {"values": [0, 20, 40, 60, 80, 100], "title": "Epoch"}
        },
        "y": {
          "field": "value", "type": "quantitative",
          "scale": {"domain": [-0.016, 1.005], "nice": false, "zero": false},
          "axis": {"values": [0, 0.2, 0.4, 0.6, 0.8, 1.0], "format": ".1f", "title": "Metric Value"}
        },
        "color": {
          "field": "series", "type": "nominal",
          "scale": {
            "domain": ["metrics/precision(B)", "metrics/recall(B)", "metrics/mAP50(B)", "metrics/mAP50-95(B)"],
            "range": ["#0000ff", "#008000", "#ff0000", "#00bfbf"]
          },
          "legend": {"orient": "top-right"}
        }
      }
    }
  ]
}
